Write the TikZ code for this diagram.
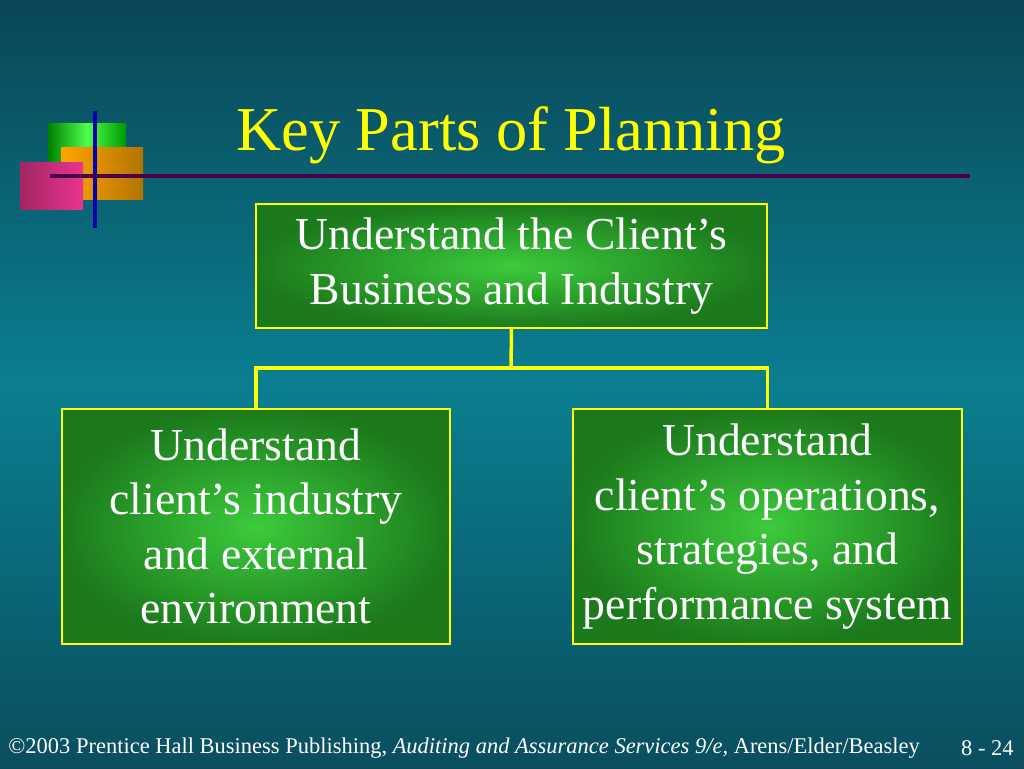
\documentclass[tikz,border=0pt]{standalone}
\usepackage{fontspec}
\setmainfont{Liberation Serif}
\usetikzlibrary{positioning}
\definecolor{bgtop}{HTML}{0A4656}
\definecolor{bgmid}{HTML}{0A7F90}
\definecolor{bgbot}{HTML}{0A4E5E}
\definecolor{boxin}{HTML}{3CCB3C}
\definecolor{boxout}{HTML}{1C7A1C}
\definecolor{ttl}{HTML}{FFFF00}
\definecolor{logoor}{HTML}{FFA500}
\definecolor{logopk}{HTML}{E8358E}
\tikzset{
  part/.style={draw=ttl, line width=1pt, inner color=boxin, outer color=boxout,
    text=white, align=center, font=\fontsize{26}{31}\selectfont},
  link/.style={draw=ttl, line width=2pt},
}
\begin{document}
\begin{tikzpicture}[x=0.02cm, y=-0.02cm]
\useasboundingbox (0,0) rectangle (1024,768);
% background
\shade[top color=bgtop, bottom color=bgmid] (0,0) rectangle (1024,384);
\shade[top color=bgmid, bottom color=bgbot] (0,384) rectangle (1024,768);
% logo
\shade[left color=green!50!black, right color=green!60!black, middle color=green!70!white] (48,123) rectangle (126,162);
\shade[left color=logoor, right color=logoor!70!black] (61,147) rectangle (143,199);
\shade[left color=logopk!70!black, right color=logopk] (20,162) rectangle (83,209);
\draw[blue!70!black, line width=2pt] (95,111) -- (95,228);
\draw[violet!60!black, line width=2.5pt] (50,176) -- (970,176);
% title
\node[text=ttl, font=\fontsize{35.5}{40}\selectfont] (title) at (511,135) {Key Parts of Planning};
% boxes
\node[part, minimum width=10.22cm, minimum height=2.48cm] (top) at (511.5,266) {Understand the Client’s\\Business and Industry};
\node[part, minimum width=7.76cm, minimum height=4.7cm] (left) at (256,526.5) {Understand\\client’s industry\\and external\\environment};
\node[part, minimum width=7.78cm, minimum height=4.7cm] (right) at (767.5,526.5) {Understand\\client’s operations,\\strategies, and\\performance system};
\coordinate (mid) at (511,368);
\draw[link] (top.south) -- (mid);
\draw[link] (left.north) |- (mid) -| (right.north);
% footer
\node[text=white, font=\fontsize{12.8}{14}\selectfont, anchor=west, inner sep=0pt] (foot) at (8,748)
  {©2003 Prentice Hall Business Publishing, \textit{Auditing and Assurance Services 9/e,} Arens/Elder/Beasley};
\node[text=white, font=\fontsize{12.8}{14}\selectfont, anchor=east, inner sep=0pt] (page) at (1014,748) {8 - 24};
\end{tikzpicture}
\end{document}
